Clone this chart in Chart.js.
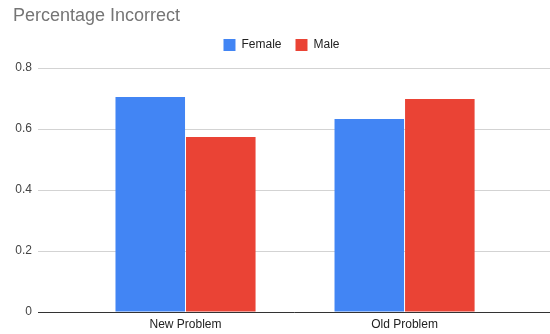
<!DOCTYPE html>
<html>
<head>
<meta charset="utf-8">
<script src="https://cdn.jsdelivr.net/npm/chart.js@4"></script>
<style>
  html, body { margin: 0; padding: 0; background: #fff; }
  #wrap { width: 550px; height: 334px; position: relative; }
</style>
</head>
<body>
<div id="wrap"><canvas id="c"></canvas></div>
<script>
// chart data
const categories = ['New Problem', 'Old Problem'];
const female = [0.705, 0.633];
const male = [0.574, 0.698];

const FONT = "'Liberation Sans', Arial, sans-serif";

// bars sit on a linear x axis so the groups can be spaced like the original
function points(values) {
    return values.map((v, i) => ({ x: i, y: v }));
}

const ctx = document.getElementById('c').getContext('2d');

const chart = new Chart(ctx, {
    type: 'bar',
    data: {
        datasets: [
            { label: 'Female', data: points(female), backgroundColor: '#4285F4' },
            { label: 'Male', data: points(male), backgroundColor: '#EA4335' }
        ]
    },
    options: {
        responsive: true,
        maintainAspectRatio: false,
        animation: false,
        categoryPercentage: 0.644,
        barPercentage: 0.986,
        layout: { padding: { left: 13, right: 0, top: 0, bottom: -2.4 } },
        plugins: {
            title: {
                display: true,
                text: 'Percentage Incorrect',
                align: 'start',
                color: '#757575',
                font: { family: FONT, size: 18, weight: 'normal', lineHeight: 1 },
                padding: { top: 7, bottom: 0 }
            },
            // empty spacer between legend and plot
            subtitle: {
                display: true,
                text: '',
                weight: 500,
                font: { size: 1, lineHeight: 1 },
                padding: { top: 0, bottom: 6 }
            },
            legend: {
                position: 'top',
                labels: {
                    boxWidth: 12,
                    boxHeight: 12,
                    padding: 14,
                    color: '#222',
                    font: { family: FONT, size: 12 }
                }
            },
            tooltip: { enabled: false }
        },
        scales: {
            x: {
                type: 'linear',
                offset: false,
                min: -0.6735,
                max: 1.664,
                grid: { display: false, drawTicks: false, offset: false },
                border: { display: true, color: '#333', width: 1 },
                afterBuildTicks: (s) => { s.ticks = categories.map((c, i) => ({ value: i })); },
                ticks: {
                    padding: 5,
                    color: '#222',
                    font: { family: FONT, size: 12 },
                    callback: (v) => categories[v]
                }
            },
            y: {
                min: 0,
                max: 0.8,
                afterFit: (s) => { s.width = 25; },
                grid: { color: '#d3d3d3', drawTicks: false },
                border: { display: false },
                ticks: {
                    stepSize: 0.2,
                    padding: 6,
                    color: '#444',
                    font: { family: FONT, size: 12 }
                }
            }
        }
    }
});
</script>
</body>
</html>
